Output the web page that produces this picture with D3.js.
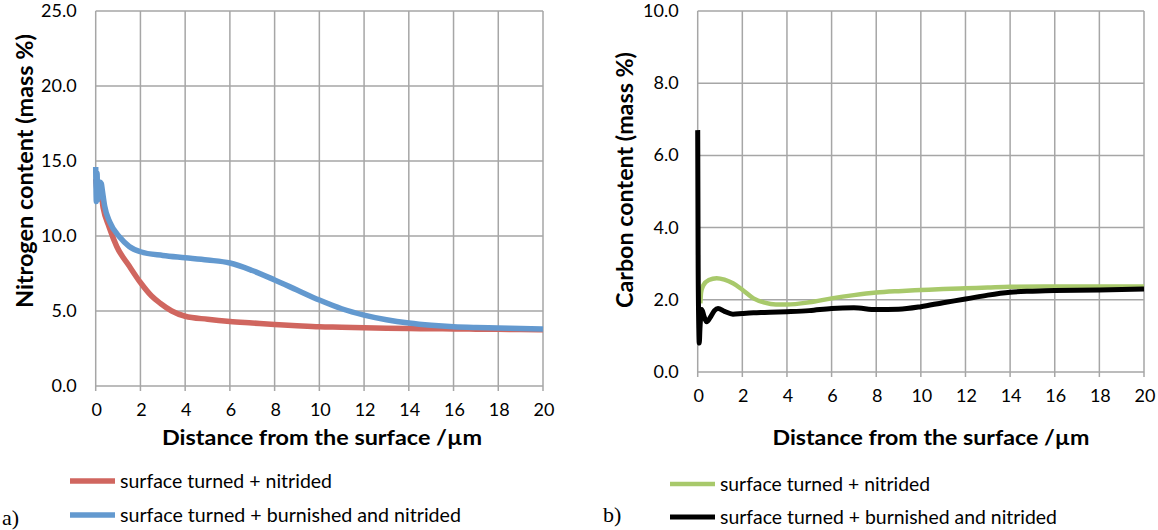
<!DOCTYPE html>
<html><head><meta charset="utf-8">
<script src="https://cdn.jsdelivr.net/npm/d3@7"></script>
<style>body{margin:0;background:#fff}svg{display:block}</style>
</head><body>
<svg id="c" width="1158" height="530"></svg>
<script>
// ---- data ----
const xTicks = [0,2,4,6,8,10,12,14,16,18,20];
const nTicks = [0,5,10,15,20,25];
const cTicks = [0,2,4,6,8,10];
const xTitle = "Distance from the surface /µm";
const nTitle = "Nitrogen content (mass %)";
const cTitle = "Carbon content (mass %)";
const seriesNames = ["surface turned + nitrided","surface turned + burnished and nitrided"];

const nTurnedX = [0,0.1,0.2,0.33,0.6,0.94,1.5,2,2.5,2.9,3.4,4,5,6,7,8,9,10,11,12,13,14,15,16,17,18,19,20];
const nTurnedY = [13.8,12.8,13.2,11.9,10.6,9.3,8.0,6.9,6.0,5.5,5.0,4.65,4.45,4.3,4.2,4.1,4.02,3.95,3.92,3.88,3.85,3.83,3.82,3.8,3.79,3.78,3.76,3.75];
const nBurnX = [0,0.03,0.06,0.09,0.13,0.18,0.25,0.3,0.4,0.64,1.09,1.5,2,3,4,5,6,7,8,9,10,11,12,13,14,15,16,17,18,19,20];
const nBurnY = [14.6,12.3,14.2,12.4,13.0,13.6,13.5,13.0,12.0,10.9,9.9,9.3,8.95,8.7,8.55,8.4,8.2,7.7,7.07,6.4,5.73,5.15,4.73,4.42,4.2,4.05,3.95,3.9,3.87,3.83,3.8];

const cTurnedX = [0.12,0.15,0.25,0.5,0.85,1.2,1.58,2,2.5,3,3.5,4,5,6,7,8,9,10,11,12,13,14,16,18,20];
const cTurnedY = [1.9,2.2,2.4,2.55,2.6,2.56,2.46,2.28,2.04,1.92,1.87,1.87,1.93,2.04,2.13,2.2,2.24,2.27,2.3,2.32,2.34,2.36,2.37,2.37,2.37];
const cBurnX = [0,0.02,0.05,0.07,0.1,0.18,0.28,0.4,0.55,0.75,0.91,1.2,1.58,2,2.5,3,4,5,6,7,8,9,10,11,12,13,14,15,16,18,20];
const cBurnY = [6.7,3.0,1.2,0.8,1.2,1.73,1.55,1.39,1.5,1.7,1.76,1.68,1.6,1.62,1.64,1.65,1.67,1.7,1.76,1.78,1.73,1.74,1.81,1.92,2.02,2.13,2.21,2.24,2.26,2.27,2.3];

const svg = d3.select("#c");
const FONT = "Lato, 'Open Sans', sans-serif";
const gridCol = "#a6a6a6";

function panel(o){
  const x = d3.scaleLinear().domain([0,20]).range([o.x0,o.x1]);
  const y = d3.scaleLinear().domain([0,o.ymax]).range([o.y0,o.y1]);
  const g = svg.append("g");
  // grid (vertical lines extend below the axis as tick marks)
  g.append("g").selectAll("line").data(xTicks).join("line")
    .attr("x1",d=>x(d)).attr("x2",d=>x(d)).attr("y1",o.y0+5).attr("y2",o.y1)
    .attr("stroke",gridCol).attr("stroke-width",1.5);
  g.append("g").selectAll("line").data(o.yTicks).join("line")
    .attr("x1",o.x0).attr("x2",o.x1).attr("y1",d=>y(d)).attr("y2",d=>y(d))
    .attr("stroke",gridCol).attr("stroke-width",1.5);
  // tick labels
  g.append("g").selectAll("text").data(o.yTicks).join("text")
    .attr("x",o.x0-19).attr("y",d=>y(d)+6).attr("text-anchor","end")
    .attr("font-family",FONT).attr("font-size",18).attr("fill","#000")
    .text(d=>d3.format(".1f")(d));
  g.append("g").selectAll("text").data(xTicks).join("text")
    .attr("x",d=>x(d)+1).attr("y",o.y0+30).attr("text-anchor","middle")
    .attr("font-family",FONT).attr("font-size",18).attr("fill","#000")
    .text(d=>d);
  // axis titles
  g.append("text").attr("x",o.xTitleC).attr("y",o.xTitleY).attr("text-anchor","middle")
    .attr("font-family",FONT).attr("font-weight","bold").attr("font-size",21)
    .attr("textLength",o.xTitleLen).attr("lengthAdjust","spacingAndGlyphs").text(xTitle);
  g.append("text").attr("transform",`translate(${o.yTitleX},308) rotate(-90)`)
    .attr("text-anchor","start").attr("font-family",FONT).attr("font-weight","bold")
    .attr("font-size",22).attr("textLength",o.yTitleLen).attr("lengthAdjust","spacingAndGlyphs")
    .text(o.yTitle);
  // lines
  const line = d3.line().x(d=>x(d[0])).y(d=>y(d[1])).curve(d3.curveMonotoneX);
  o.series.forEach(s=>{
    g.append("path").attr("d",line(d3.zip(s.xs,s.ys))).attr("fill","none")
      .attr("stroke",s.color).attr("stroke-width",s.w).attr("stroke-linejoin","round");
  });
  // legend
  o.series.forEach((s,i)=>{
    const ly = o.legY[i];
    g.append("line").attr("x1",o.legX).attr("x2",o.legX+45).attr("y1",ly).attr("y2",ly)
      .attr("stroke",s.color).attr("stroke-width",s.w);
    g.append("text").attr("x",o.legX+50).attr("y",ly+7).attr("font-family",FONT)
      .attr("font-size",19).attr("textLength",o.legLen[i]).attr("lengthAdjust","spacingAndGlyphs")
      .text(seriesNames[i]);
  });
  g.append("text").attr("x",o.tagX).attr("y",o.tagY).attr("font-family","'Liberation Serif', serif")
    .attr("font-size",22).text(o.tag);
}

panel({x0:95.7,x1:543,y0:386,y1:11,ymax:25,yTicks:nTicks,yTitle:nTitle,
  xTitleC:322,xTitleY:445,xTitleLen:320,yTitleX:33,yTitleLen:274,
  series:[{xs:nTurnedX,ys:nTurnedY,color:"#d0665f",w:5.5},{xs:nBurnX,ys:nBurnY,color:"#6399cf",w:5.5}],
  legX:70,legY:[481,515],legLen:[212,341],tagX:2,tagY:525,tag:"a)"});
panel({x0:697.7,x1:1144,y0:372,y1:11,ymax:10,yTicks:cTicks,yTitle:cTitle,
  xTitleC:931,xTitleY:445,xTitleLen:317,yTitleX:633,yTitleLen:256,
  series:[{xs:cTurnedX,ys:cTurnedY,color:"#a8c96b",w:4.5},{xs:cBurnX,ys:cBurnY,color:"#000",w:5}],
  legX:670,legY:[484,517],legLen:[210,337],tagX:603,tagY:522,tag:"b)"});
</script>
</body></html>
